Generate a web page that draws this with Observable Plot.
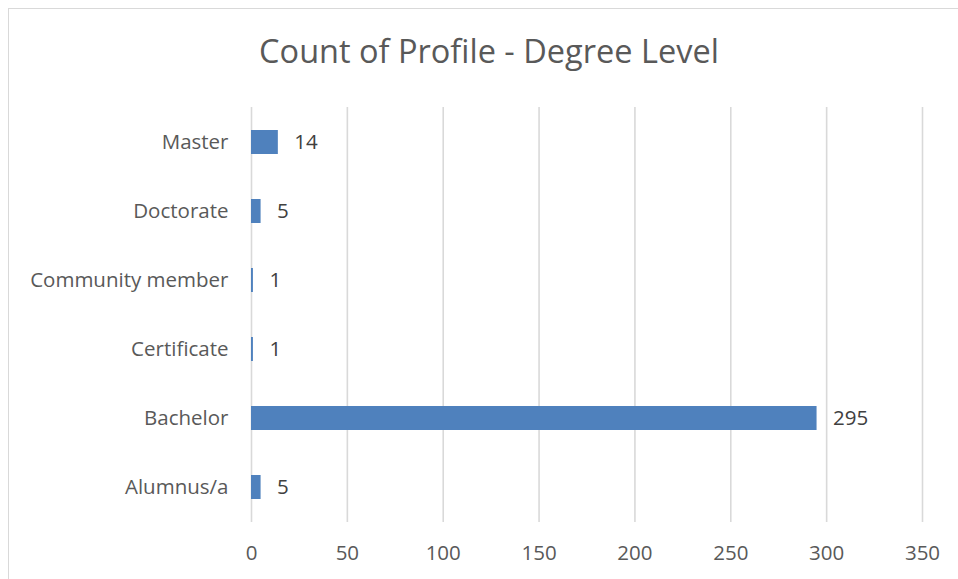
<!DOCTYPE html>
<html>
<head>
<meta charset="utf-8">
<script src="https://cdn.jsdelivr.net/npm/d3@7"></script>
<script src="https://cdn.jsdelivr.net/npm/@observablehq/plot@0.6"></script>
<style>
  html, body { margin: 0; padding: 0; background: #fff; }
  #wrap { position: relative; width: 958px; height: 579px; overflow: hidden; font-family: "Open Sans", sans-serif; }
  #frame { position: absolute; left: 8px; top: 8px; width: 1000px; height: 1000px; border: 1.5px solid #d9d9d9; box-sizing: border-box; }
  #title { position: absolute; left: 0; top: 28px; width: 978px; text-align: center; font-size: 32.5px; color: #595959; font-weight: 400; line-height: 46px; }
  #chart { position: absolute; left: 0; top: 0; }
</style>
</head>
<body>
<div id="wrap">
  <div id="frame"></div>
  <div id="title">Count of Profile - Degree Level</div>
  <div id="chart"></div>
</div>
<script>
const categories = ["Master", "Doctorate", "Community member", "Certificate", "Bachelor", "Alumnus/a"];
const counts = [14, 5, 1, 1, 295, 5];
const xTicks = [0, 50, 100, 150, 200, 250, 300, 350];

const data = categories.map((c, i) => ({category: c, count: counts[i]}));

const chart = Plot.plot({
  width: 958,
  height: 579,
  marginLeft: 251,
  marginRight: 36,
  marginTop: 107,
  marginBottom: 57,
  style: {fontFamily: "'Open Sans', sans-serif", fontSize: "20.5px", background: "transparent", overflow: "visible"},
  x: {domain: [0, 350], ticks: xTicks, label: null},
  y: {domain: categories, paddingInner: 0.65, paddingOuter: 0.325, label: null},
  marks: [
    Plot.gridX(xTicks, {stroke: "#d9d9d9", strokeOpacity: 1, strokeWidth: 1.6}),
    Plot.barX(data, {x: "count", y: "category", fill: "#4f81bd"}),
    Plot.text(data, {x: "count", y: "category", text: d => String(d.count), textAnchor: "start", dx: 16, fill: "#404040", fontSize: 20.5}),
    Plot.axisX({ticks: xTicks, tickSize: 0, tickPadding: 23, color: "#595959", fontSize: 20.5, label: null}),
    Plot.axisY({tickSize: 0, tickPadding: 23, color: "#595959", fontSize: 20.5, label: null})
  ]
});
document.getElementById("chart").appendChild(chart);
</script>
</body>
</html>
